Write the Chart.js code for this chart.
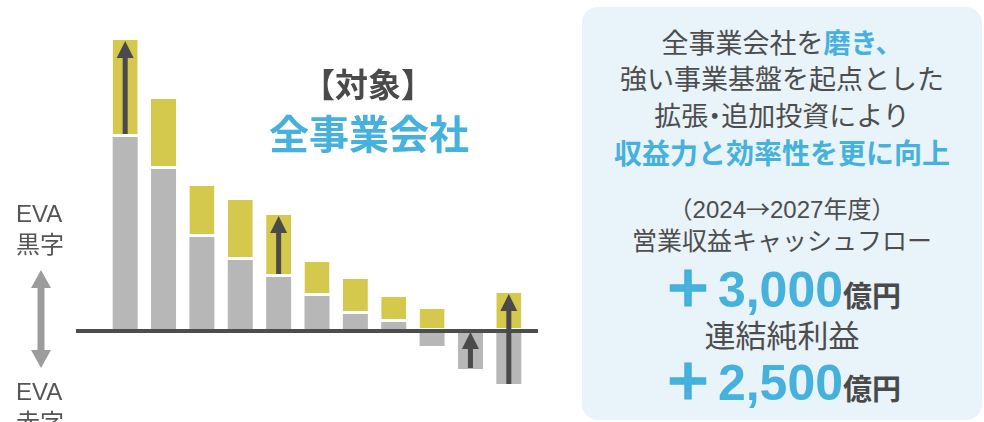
<!DOCTYPE html>
<html lang="ja">
<head>
<meta charset="utf-8">
<script src="https://cdn.jsdelivr.net/npm/chart.js@4.4.1/dist/chart.umd.min.js"></script>
<style>
  html, body { margin: 0; padding: 0; background: #fff; }
  body {
    width: 984px; height: 422px; overflow: hidden; position: relative;
    font-family: "Liberation Sans", "Noto Sans CJK JP", sans-serif; color: #4d4d4d;
  }
  #chartBox { position: absolute; left: 0; top: 0; width: 560px; height: 422px; }
  .t { position: absolute; white-space: nowrap; line-height: 1; }
  .side { left: 16px; font-size: 24px; color: #555; }
  .blue { color: #45b1dc; font-weight: bold; }
  #panel {
    position: absolute; left: 582px; top: 7px; width: 400px; height: 413px;
    background: #e8f3fa; border-radius: 16px;
  }
  .pl { left: 582px; width: 400px; text-align: center; }
  .unit { font-size: 29px; font-weight: bold; color: #4a4a4a; }
  .big { font-size: 50px; }
  .plus {
    font-family: "Noto Sans CJK JP", sans-serif; font-weight: 900; margin-right: 5px;
    -webkit-text-stroke: 1.5px #45b1dc;
  }
  .cjk { font-family: "Noto Sans CJK JP", sans-serif; }
  .dot { margin: 0 -7px; }
</style>
</head>
<body>
<div id="chartBox"><canvas id="evaChart" width="560" height="422"></canvas></div>

<!-- left side legend -->
<div class="t side" style="top:202px">EVA</div>
<div class="t side" style="top:233px">黒字</div>
<svg style="position:absolute;left:28px;top:268px" width="26" height="102">
  <polygon points="13,2 23,20 3,20" fill="#9c9c9c"/>
  <rect x="9.5" y="19" width="7" height="64" fill="#9c9c9c"/>
  <polygon points="13,100 23,82 3,82" fill="#9c9c9c"/>
</svg>
<div class="t side" style="top:380px">EVA</div>
<div class="t side" style="top:411px">赤字</div>

<!-- title -->
<div class="t" style="left:268px;width:200px;text-align:center;top:69px;font-size:33px;font-weight:bold;color:#4a4a4a">【対象】</div>
<div class="t blue" style="left:219px;width:300px;text-align:center;top:115px;font-size:40px">全事業会社</div>

<!-- right panel -->
<div id="panel"></div>
<div class="t pl" style="top:31px;font-size:27px">全事業会社を<span class="blue">磨き、</span></div>
<div class="t pl" style="top:67px;font-size:27px">強い事業基盤を起点とした</div>
<div class="t pl" style="top:104px;font-size:27px">拡張<span class="dot">・</span>追加投資により</div>
<div class="t pl blue" style="top:141px;font-size:28px">収益力と効率性を更に向上</div>
<div class="t pl" style="top:196px;font-size:24px">（2024<span class="cjk">→</span>2027年度）</div>
<div class="t pl" style="top:229px;font-size:25px">営業収益キャッシュフロー</div>
<div class="t pl" style="top:260px"><span class="blue big"><span class="plus">＋</span>3,000</span><span class="unit">億円</span></div>
<div class="t pl" style="top:321px;font-size:31px">連結純利益</div>
<div class="t pl" style="top:353px"><span class="blue big"><span class="plus">＋</span>2,500</span><span class="unit">億円</span></div>

<script>
// 事業会社ごとの EVA（現在）と改善幅
const companies = ['A', 'B', 'C', 'D', 'E', 'F', 'G', 'H', 'I', 'J', 'K'];
const evaNow = [194, 162, 94, 71, 54, 35, 17, 9, -15, -38, -53];
const evaGain = [97, 70, 51, 60, 62, 34, 35, 25, 22, 0, 38];
// 矢印（始点・終点）
const arrowFrom = [197, null, null, null, 57, null, null, null, null, -37, -53];
const arrowTo = [290, null, null, null, 115, null, null, null, null, -1, 37];

const grey = '#b7b7b7';
const yellow = '#d4c84d';
const dark = '#4a4a4a';

const overlay = {
  id: 'overlay',
  afterDatasetsDraw(chart) {
    const { ctx, chartArea, scales } = chart;
    const y0 = scales.y.getPixelForValue(0);
    // zero line
    ctx.save();
    ctx.fillStyle = '#4d4d4d';
    ctx.fillRect(chartArea.left - 30, y0 - 2, chartArea.right - chartArea.left + 40, 4);
    // arrows
    const bars = chart.getDatasetMeta(0).data;
    ctx.fillStyle = dark;
    arrowFrom.forEach((from, i) => {
      if (from === null) return;
      const x = bars[i].x;
      const yA = scales.y.getPixelForValue(from);
      const yB = scales.y.getPixelForValue(arrowTo[i]);
      const head = 17;
      ctx.fillRect(x - 2.5, yB + head - 1, 5, yA - yB - head + 1);
      ctx.beginPath();
      ctx.moveTo(x, yB);
      ctx.lineTo(x + 8.5, yB + head);
      ctx.lineTo(x - 8.5, yB + head);
      ctx.closePath();
      ctx.fill();
    });
    ctx.restore();
  }
};

new Chart(document.getElementById('evaChart'), {
  type: 'bar',
  data: {
    labels: companies,
    datasets: [
      {
        label: 'EVA',
        data: evaNow,
        backgroundColor: grey,
        borderWidth: 0,
      },
      {
        label: '改善',
        data: evaGain,
        backgroundColor: yellow,
        borderColor: '#ffffff',
        borderWidth: { top: 0, left: 0, right: 0, bottom: 3 },
        borderSkipped: false,
      },
    ],
  },
  options: {
    responsive: false,
    animation: false,
    devicePixelRatio: 1,
    layout: { padding: { left: 106, right: 32, top: 31, bottom: 31 } },
    datasets: { bar: { barPercentage: 0.652, categoryPercentage: 1 } },
    plugins: { legend: { display: false }, tooltip: { enabled: false } },
    scales: {
      x: { stacked: true, display: false },
      y: { stacked: true, display: false, min: -60, max: 300 },
    },
  },
  plugins: [overlay],
});
</script>
</body>
</html>
